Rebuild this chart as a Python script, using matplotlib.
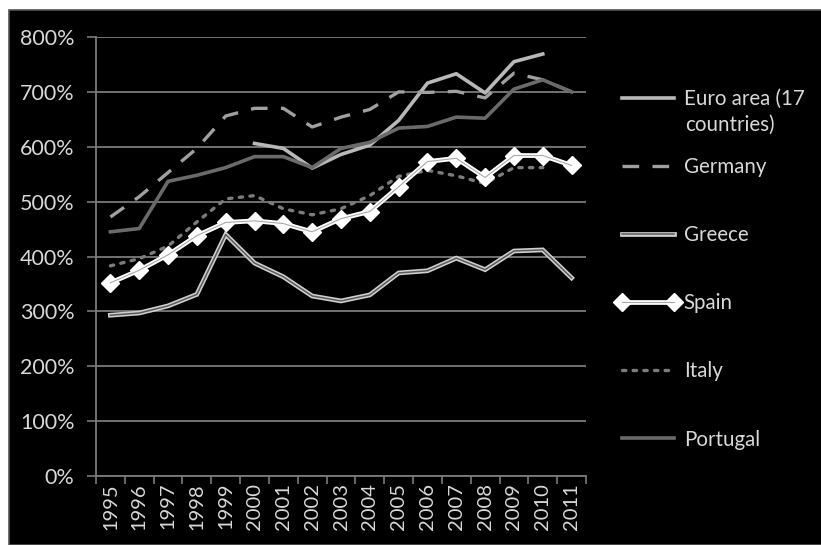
import numpy as np
import matplotlib.pyplot as plt
from matplotlib.patches import Rectangle
from matplotlib.lines import Line2D
from matplotlib.ticker import FuncFormatter, FixedLocator

plt.rcParams['font.family'] = ['Lato', 'DejaVu Sans']

years = [str(y) for y in range(1995, 2012)]
nan = np.nan

euro_area = [nan, nan, nan, nan, nan, 606, 597, 561, 586, 603, 648, 716, 733, 698, 755, 769, nan]
germany = [472, 509, 553, 597, 656, 670, 670, 636, 654, 668, 700, 699, 701, 689, 734, 722, 700]
greece = [293, 297, 310, 331, 440, 388, 363, 328, 319, 330, 370, 374, 397, 376, 410, 412, 361]
spain = [352, 375, 403, 438, 462, 465, 460, 445, 469, 482, 527, 573, 579, 544, 584, 584, 566]
italy = [383, 396, 419, 463, 505, 511, 487, 476, 487, 511, 546, 557, 547, 533, 562, 562, nan]
portugal = [445, 451, 537, 548, 562, 582, 582, 562, 597, 608, 634, 637, 654, 652, 705, 722, 700]

fig = plt.figure(figsize=(8.21, 5.45), dpi=100, facecolor='white')
# black panel with thin grey border
fig.patches.append(Rectangle((9 / 821, 0), 1, 1 - 10 / 545, transform=fig.transFigure,
                             facecolor='black', edgecolor='#555555', linewidth=1.2, zorder=-10))

ax = fig.add_axes([96 / 821, 1 - 476 / 545, (586 - 96) / 821, (476 - 37) / 545])
ax.set_zorder(1)
ax.set_facecolor('black')
x = np.arange(len(years))

grid_c = '#7a7a7a'
txt_c = '#d8d8d8'
ax.set_ylim(0, 800)
ax.set_xlim(-0.5, len(years) - 0.5)
ax.set_yticks(range(0, 801, 100))
ax.yaxis.set_major_formatter(FuncFormatter(lambda v, p: f'{int(v)}%'))
ax.grid(axis='y', color=grid_c, linewidth=1.3)
ax.set_axisbelow(True)
for s in ['top', 'right']:
    ax.spines[s].set_visible(False)
for s in ['left', 'bottom']:
    ax.spines[s].set_color(grid_c)
    ax.spines[s].set_linewidth(1.3)

ax.set_xticks(x)
ax.set_xticklabels(years, rotation=90)
ax.xaxis.set_minor_locator(FixedLocator(np.arange(-0.5, len(years), 1)))
ax.tick_params(axis='x', which='major', length=0, pad=5, labelsize=14.5, labelcolor=txt_c)
ax.tick_params(axis='x', which='minor', length=6, width=1.2, color=grid_c)
ax.tick_params(axis='y', length=6.5, width=1.2, color=grid_c, pad=9, labelsize=15.5,
               labelcolor=txt_c)

# series
ax.plot(x, euro_area, color='#b8b8b8', lw=2.6, zorder=3)
ax.plot(x, germany, color='#a0a0a0', lw=2.4, ls=(0, (5, 4)), zorder=3)
ax.plot(x, greece, color='#cfcfcf', lw=3.4, zorder=3, solid_joinstyle='miter')
ax.plot(x, greece, color='#5a5a5a', lw=1.1, zorder=3)
ax.plot(x, spain, color='white', lw=3.4, marker='D', ms=9.5, mfc='white', mec='white', zorder=4)
ax.plot(x, spain, color='#a8a8a8', lw=0.8, zorder=4)
ax.plot(x, italy, color='#7c7c7c', lw=2.4, ls=(0, (1, 2.2)), dash_capstyle='round', zorder=3)
ax.plot(x, portugal, color='#6a6a6a', lw=2.6, zorder=3)

# legend
h_euro = Line2D([], [], color='#b8b8b8', lw=2.6)
h_ger = Line2D([], [], color='#a0a0a0', lw=2.4, ls=(0, (5, 4)))
h_gre = (Line2D([], [], color='#cfcfcf', lw=3.4), Line2D([], [], color='#5a5a5a', lw=1.1))
h_spa = (Line2D([], [], color='white', lw=3.4, marker='D', ms=9.5, mfc='white', mec='white'),
         Line2D([], [], color='#a8a8a8', lw=0.8))
h_ita = Line2D([], [], color='#7c7c7c', lw=2.4, ls=(0, (1, 2.2)), dash_capstyle='round')
h_por = Line2D([], [], color='#6a6a6a', lw=2.6)
leg = fig.legend([h_euro, h_ger, h_gre, h_spa, h_ita, h_por],
                 ['Euro area (17', 'Germany', 'Greece', 'Spain', 'Italy', 'Portugal'],
                 loc='upper left', bbox_to_anchor=(616 / 821, 1 - 89 / 545),
                 frameon=False, fontsize=14.8, labelcolor=txt_c, numpoints=2,
                 handlelength=3.1, handletextpad=0.2, labelspacing=2.34,
                 borderpad=0, borderaxespad=0)
fig.text(685 / 821, 1 - 125 / 545, 'countries)', color=txt_c, fontsize=14.8, va='center')

fig.savefig('out.png', dpi=100, facecolor='white')
